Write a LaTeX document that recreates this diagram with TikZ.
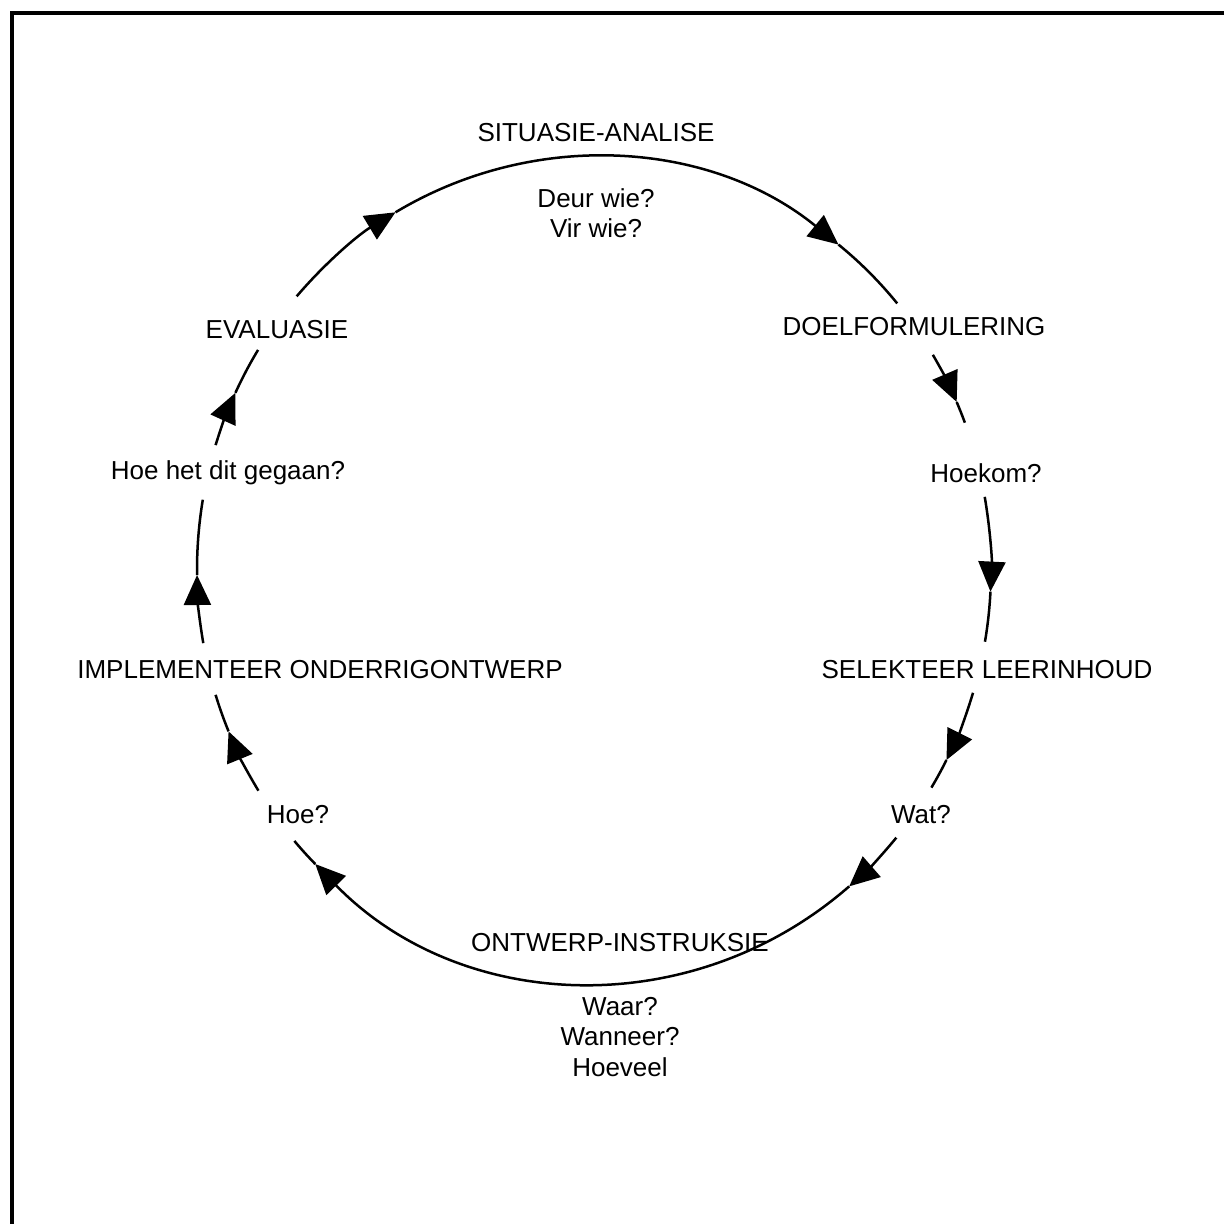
\documentclass[tikz,border=0pt]{standalone}
\usepackage{fontspec}
\setmainfont{Liberation Sans}
\usetikzlibrary{arrows.meta}

\tikzset{
  cyc/.style={line width=2.5pt},
  lbl/.style={inner sep=0pt, font=\fontsize{26}{30.5}\selectfont}
}
\newcommand{\cycpiece}[3][]{%
  \draw[cyc,#1] (ctr) ++(#2:397pt and 413pt)
    arc[start angle=#2, end angle=#3, x radius=397pt, y radius=413pt];}

\begin{document}
\begin{tikzpicture}[x=1pt, y=1pt, >={Triangle[length=30pt, width=27pt]}]
    \useasboundingbox (0,0) rectangle (1224,1224);
    % frame (top and left only)
    \draw[line width=3.3pt] (1224,1211) -- (12,1211) -- (12,0);

    \coordinate (ctr) at (594,654);

    % pieces of the cycle that end in an arrow
    \foreach \a/\b in {138.5/120, 120/52, 31.4/24, 10.2/-3, -17.3/-27.4,
                       -40.4/-50, -50/-134.6, 212.3/203, 190.2/180.7, 162.4/154.6}
      {\cycpiece[->]{\a}{\b}}
    % plain pieces
    \foreach \a/\b in {52/40.2, 24/20.9, -3/-10, -27.4/-31.8, -134.6/-139,
                       203/197.6, 180.7/170.2, 154.6/147.8}
      {\cycpiece{\a}{\b}}

    \node[lbl] (sit) at (596,1091) {SITUASIE-ANALISE};
    \node[lbl, align=center] (wie) at (596,1011) {Deur wie?\\Vir wie?};
    \node[lbl] (doel) at (914,897) {DOELFORMULERING};
    \node[lbl] (hoekom) at (986,751) {Hoekom?};
    \node[lbl] (sel) at (987,554) {SELEKTEER LEERINHOUD};
    \node[lbl] (wat) at (921,409) {Wat?};
    \node[lbl] (ont) at (620,281) {ONTWERP-INSTRUKSIE};
    \node[lbl, align=center] (waar) at (620,187) {Waar?\\Wanneer?\\Hoeveel};
    \node[lbl] (hoe) at (298,409) {Hoe?};
    \node[lbl] (impl) at (320,554) {IMPLEMENTEER ONDERRIGONTWERP};
    \node[lbl] (hoehet) at (228,751) {Hoe het dit gegaan?};
    \node[lbl] (eval) at (277,894) {EVALUASIE};
\end{tikzpicture}
\end{document}
